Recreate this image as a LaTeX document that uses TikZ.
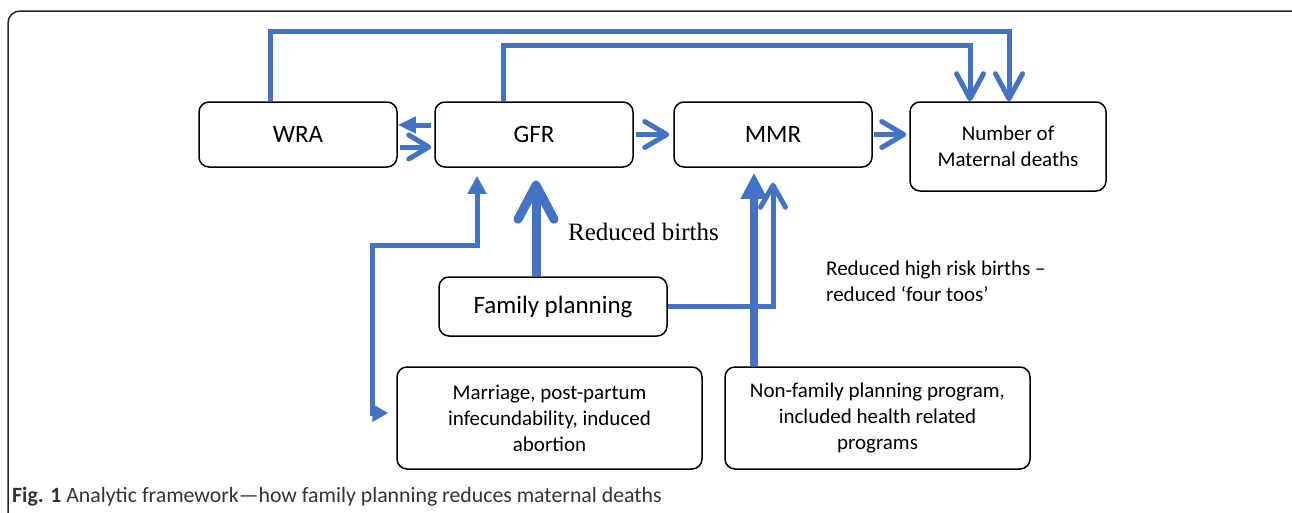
\documentclass[tikz,border=0pt]{standalone}
\usepackage{fontspec}
\setmainfont{Carlito}
\newfontfamily\notefont{Liberation Serif}
\usepackage{xcolor}
\usetikzlibrary{arrows.meta, positioning, calc}
\definecolor{fpblue}{HTML}{4472C4}

\begin{document}
\begin{tikzpicture}[
          x=1pt, y=-1pt,
          box/.style={draw, rounded corners=10pt, line width=1.5pt, align=center, inner sep=2pt},
          big/.style={font=\fontsize{25}{30}\selectfont},
          small/.style={font=\fontsize{21}{26}\selectfont},
          link/.style={draw=fpblue, line width=5pt},
          barb/.style args={#1/#2}{-{Straight Barb[length=#1, width=#2, round]}},
          tri/.style args={#1/#2}{-{Triangle[length=#1, width=#2]}}
        ]
          \useasboundingbox (0,0) rectangle (1292,512);
          \clip (0,0) rectangle (1292,512);
          % outer frame
          \draw[rounded corners=12pt, line width=1.5pt, black!85] (8,11) rectangle (1310,545);

          % boxes
          \node[box, big, minimum width=198pt, minimum height=65pt] (wra) at (298,134.5) {WRA};
          \node[box, big, minimum width=198pt, minimum height=65pt] (gfr) at (534,134.5) {GFR};
          \node[box, big, minimum width=198pt, minimum height=65pt] (mmr) at (773,134.5) {MMR};
          \node[box, small, minimum width=196pt, minimum height=89pt] (deaths) at (1008,146.5) {Number of\\Maternal deaths};
          \node[box, big, minimum width=228pt, minimum height=59pt] (fp) at (553,306.5) {Family planning};
          \node[box, small, minimum width=305pt, minimum height=102pt] (marriage) at (549.5,418) {Marriage, post-partum\\infecundability, induced\\abortion};
          \node[box, small, minimum width=305pt, minimum height=102pt] (nonfp) at (877.5,418) {Non-family planning program,\\included health related\\programs};

          % labels
          \node[anchor=base west, inner sep=0pt, font=\notefont\fontsize{25}{30}\selectfont] (births) at (568,240) {Reduced births};
          \node[anchor=west, align=left, inner sep=0pt, small] (toos) at (826,281) {Reduced high risk births –\\reduced ‘four toos’};
          \node[anchor=base west, inner sep=0pt, font=\fontsize{21.8}{26}\selectfont, text=black!80] (caption) at (12,502) {\textbf{Fig. 1} Analytic framework—how family planning reduces maternal deaths};

          % top links
          \coordinate (top1) at (1009,31);
          \coordinate (top2) at (970,45);
          \draw[link, barb=25pt/27pt] ([xshift=-28pt]wra.north) |- (top1) -- (top1 |- deaths.north);
          \draw[link, barb=25pt/27pt] ([xshift=-31pt]gfr.north) |- (top2) -- (top2 |- deaths.north);

          % row links
          \draw[link, tri=18pt/16pt, shorten <=3pt] ([yshift=9.5pt]gfr.west) -- ([yshift=9.5pt]wra.east);
          \draw[link, barb=20pt/24pt, shorten <=2pt, shorten >=3pt] ([yshift=-12.5pt]wra.east) -- ([yshift=-12.5pt]gfr.west);
          \draw[link, barb=22pt/26pt, shorten <=2pt, shorten >=4pt] (gfr.east) -- (mmr.west);
          \draw[link, barb=22pt/26pt, shorten <=1pt, shorten >=3pt] (mmr.east) -- (deaths.west |- mmr.east);

          % family planning
          \draw[link, line width=9pt, barb=34pt/36pt, shorten >=13pt] ([xshift=-17pt]fp.north) -- ([xshift=2pt]gfr.south);
          \draw[link, barb=22pt/25pt, shorten >=15pt] (fp.east) -| (mmr.south);

          % other programs
          \coordinate (nfx) at ([xshift=-123.5pt]nonfp.north);
          \draw[link, line width=8pt, tri=26pt/25pt, shorten >=5pt] (nfx) -- (nfx |- mmr.south);

          % marriage etc.
          \coordinate (bend) at (477,245);
          \draw[link, {Triangle[length=16pt, width=17pt]}-{Triangle[length=18pt, width=18pt]}, shorten >=8pt]
            ([xshift=-8pt, yshift=5pt]marriage.west) -- ++(-16,0) |- (bend) -- (bend |- gfr.south);
        \end{tikzpicture}
\end{document}
